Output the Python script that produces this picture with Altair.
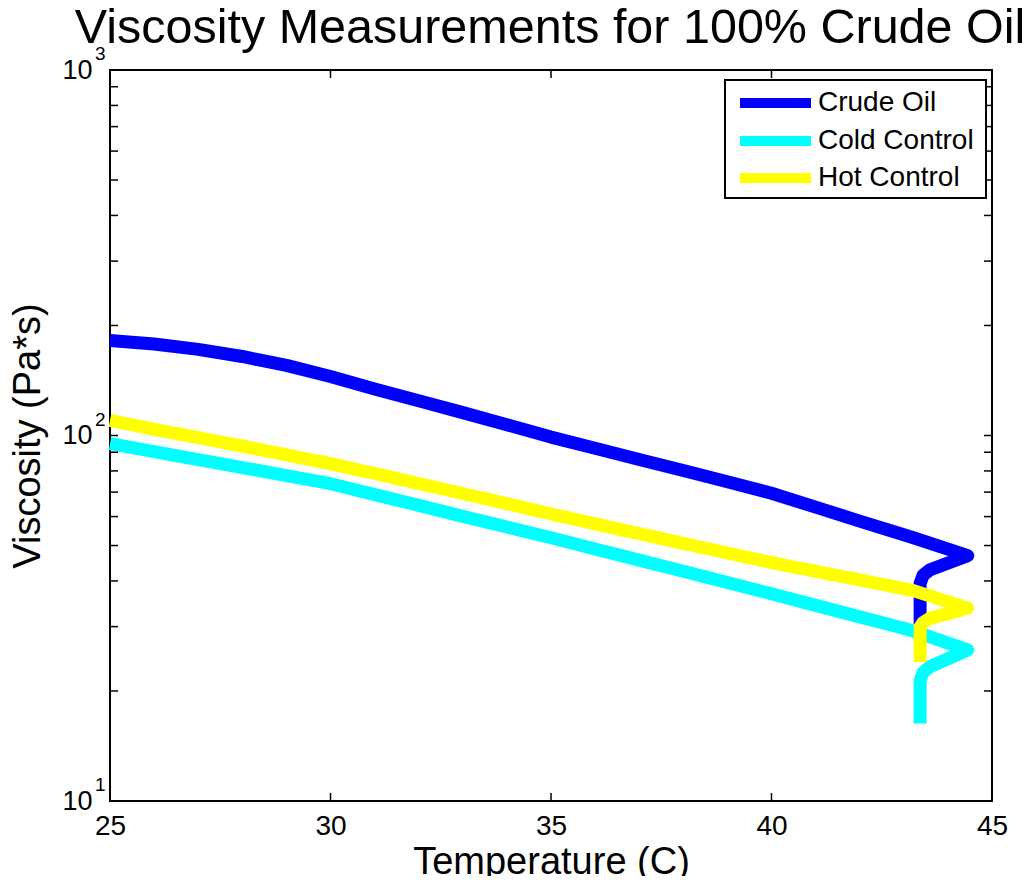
import altair as alt
import pandas as pd

# ---- data ----
series_names = ["Crude Oil", "Cold Control", "Hot Control"]
series_colors = ["#0000FF", "#00FFFF", "#FFFF00"]
chart_title = "Viscosity Measurements for 100% Crude Oil"

temps_main = [25, 26, 27, 28, 29, 30, 31, 32, 33, 34, 35, 36, 37, 38, 39, 40, 41, 42, 43, 43.2]
crude_main = [182, 178, 172, 164.5, 155.5, 145, 134, 124.5, 115.5, 107, 99, 92.3, 86, 80.2, 74.7, 69.5, 63.7, 58.3, 53.5, 52.6]
cold_main = [95, 90.3, 85.9, 81.7, 77.7, 73.8, 68.9, 64.4, 60.1, 56.2, 52.5, 48.9, 45.6, 42.5, 39.6, 36.9, 34.3, 31.9, 29.7, 29.2]
hot_main = [110, 104, 98.7, 93.5, 88.5, 83.8, 78.7, 73.9, 69.4, 65.1, 61, 57.3, 53.9, 50.7, 47.7, 44.9, 42.5, 40.3, 38.1, 37.7]

# after the peak the temperature falls back and holds while viscosity drops
temps_tail = [44.45, 43.59, 43.44, 43.37, 43.37]
crude_tail = [46.9, 42.9, 41.5, 39.4, 30.5]
cold_tail = [25.9, 23.3, 22.5, 21.4, 16.3]
hot_tail = [33.7, 31.6, 30.8, 29.9, 24.0]

x_ticks = [25, 30, 35, 40, 45]
y_major = [10, 100, 1000]
y_exponents = ["1", "2", "3"]
y_minor = [20, 30, 40, 50, 60, 70, 80, 90, 200, 300, 400, 500, 600, 700, 800, 900]

# ---- build table ----
rows = []
for name, main, tail in zip(series_names, [crude_main, cold_main, hot_main], [crude_tail, cold_tail, hot_tail]):
    i = 0
    for t, v in zip(temps_main + temps_tail, main + tail):
        rows.append({"series": name, "T": t, "V": v, "idx": i})
        i += 1
df = pd.DataFrame(rows)

ytick_df = pd.DataFrame({"V": y_major + y_minor})
xtick_df = pd.DataFrame({"T": x_ticks})
exp_df = pd.DataFrame({"V": y_major, "e": y_exponents})

W, H = 882, 731
FONT = "Liberation Sans"
TL = 8

xscale = alt.Scale(domain=[25, 45], nice=False, zero=False)
yscale = alt.Scale(type="log", domain=[10, 1000], nice=False)

lines = alt.Chart(df).mark_line(strokeWidth=13, strokeJoin="round").encode(
    x=alt.X("T:Q", scale=xscale, title="Temperature (C)",
            axis=alt.Axis(values=x_ticks, title="Temperature (C)", grid=False, ticks=False, tickSize=0,
                          domain=False, labelFont=FONT, labelFontSize=28, labelColor="black",
                          labelPadding=11, titleFont=FONT, titleFontSize=38, titleFontWeight="normal",
                          titleColor="black", titlePadding=3, labelFlush=False)),
    y=alt.Y("V:Q", scale=yscale, title="Viscosity (Pa*s)",
            axis=alt.Axis(values=y_major, labelExpr="'10'", title="Viscosity (Pa*s)", grid=False,
                          ticks=False, tickSize=0, domain=False, labelFont=FONT, labelFontSize=27,
                          labelColor="black", labelPadding=18, titleFont=FONT, titleFontSize=38,
                          titleFontWeight="normal", titleColor="black", titlePadding=14, labelFlush=False)),
    color=alt.Color("series:N", scale=alt.Scale(domain=series_names, range=series_colors), legend=None),
    order=alt.Order("idx:Q"),
)

left_ticks = alt.Chart(ytick_df).mark_rule(color="black", strokeWidth=1.5).encode(
    y=alt.Y("V:Q", title="Viscosity (Pa*s)"), x=alt.value(0), x2=alt.value(TL))
right_ticks = alt.Chart(ytick_df).mark_rule(color="black", strokeWidth=1.5).encode(
    y=alt.Y("V:Q", title="Viscosity (Pa*s)"), x=alt.value(W - TL), x2=alt.value(W))
bottom_ticks = alt.Chart(xtick_df).mark_rule(color="black", strokeWidth=1.5).encode(
    x=alt.X("T:Q", title="Temperature (C)"), y=alt.value(H - TL), y2=alt.value(H))
top_ticks = alt.Chart(xtick_df).mark_rule(color="black", strokeWidth=1.5).encode(
    x=alt.X("T:Q", title="Temperature (C)"), y=alt.value(0), y2=alt.value(TL))
exps = alt.Chart(exp_df).mark_text(align="left", baseline="middle", font=FONT, fontSize=19,
                                   color="black", dy=-16).encode(
    y=alt.Y("V:Q", title="Viscosity (Pa*s)"), x=alt.value(-15), text="e:N")

# ---- title as a text mark above the plot ----
title_mark = alt.Chart(pd.DataFrame({"t": [chart_title]})).mark_text(
    align="center", baseline="alphabetic", font=FONT, fontSize=48.5, color="black").encode(
    x=alt.value(440), y=alt.value(-27), text="t:N")

# ---- manual legend (box, line samples, labels) ----
LX0, LX1, LY0, LY1 = 615, 876, 10, 128
legend_rows = [33, 71, 108]
legend_layers = [
    alt.Chart(pd.DataFrame({"s": ["box"]})).mark_rect(fill="white", stroke="black", strokeWidth=2).encode(
        x=alt.value(LX0), x2=alt.value(LX1), y=alt.value(LY0), y2=alt.value(LY1))
]
for name, col, ry in zip(series_names, series_colors, legend_rows):
    d = pd.DataFrame({"s": [name]})
    legend_layers.append(alt.Chart(d).mark_rule(color=col, strokeWidth=10).encode(
        x=alt.value(630), x2=alt.value(701), y=alt.value(ry)))
    legend_layers.append(alt.Chart(d).mark_text(align="left", baseline="middle", font=FONT, fontSize=28,
                                                color="black").encode(
        x=alt.value(708), y=alt.value(ry), text="s:N"))

chart = alt.layer(lines, left_ticks, right_ticks, bottom_ticks, top_ticks, exps, title_mark,
                  *legend_layers).properties(
    width=W, height=H,
    autosize="none",
    padding={"left": 102, "top": 62, "right": 34, "bottom": 75},
).configure(background="white").configure_view(stroke="black", strokeWidth=2)

chart.save("out.html", embed_options={"renderer": "svg", "actions": False})
